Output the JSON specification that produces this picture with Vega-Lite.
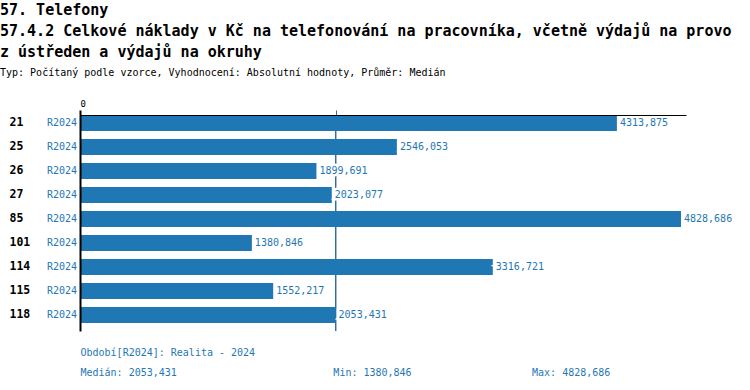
{
  "$schema": "https://vega.github.io/schema/vega-lite/v6.json",
  "width": 606,
  "height": 216,
  "padding": {"left": 0, "top": 3, "right": 5, "bottom": 5},
  "background": "white",
  "title": {
    "text": ["57. Telefony", "57.4.2 Celkové náklady v Kč na telefonování na pracovníka, včetně výdajů na provo", "z ústředen a výdajů na okruhy"],
    "subtitle": "Typ: Počítaný podle vzorce, Vyhodnocení: Absolutní hodnoty, Průměr: Medián",
    "anchor": "start",
    "frame": "bounds",
    "dx": -9,
    "font": "DejaVu Sans Mono",
    "fontSize": 15,
    "fontWeight": "bold",
    "color": "black",
    "lineHeight": 21,
    "subtitleFont": "DejaVu Sans Mono",
    "subtitleFontSize": 10,
    "subtitleColor": "black",
    "subtitlePadding": 8,
    "offset": 21
  },
  "data": {
    "values": [
      {"code": "21", "period": "R2024", "value": 4313.875, "label": "4313,875"},
      {"code": "25", "period": "R2024", "value": 2546.053, "label": "2546,053"},
      {"code": "26", "period": "R2024", "value": 1899.691, "label": "1899,691"},
      {"code": "27", "period": "R2024", "value": 2023.077, "label": "2023,077"},
      {"code": "85", "period": "R2024", "value": 4828.686, "label": "4828,686"},
      {"code": "101", "period": "R2024", "value": 1380.846, "label": "1380,846"},
      {"code": "114", "period": "R2024", "value": 3316.721, "label": "3316,721"},
      {"code": "115", "period": "R2024", "value": 1552.217, "label": "1552,217"},
      {"code": "118", "period": "R2024", "value": 2053.431, "label": "2053,431"}
    ]
  },
  "layer": [
    {
      "mark": {"type": "rule", "color": "#2f6ea3", "strokeWidth": 1},
      "encoding": {
        "x": {"datum": 2053.431, "type": "quantitative", "scale": {"domain": [0, 4869]}, "axis": null}
      }
    },
    {
      "mark": {"type": "bar", "color": "#1f77b4"},
      "encoding": {
        "y": {
          "field": "code",
          "type": "nominal",
          "sort": null,
          "scale": {"paddingInner": 0.3333, "paddingOuter": 0.1667, "align": 0},
          "axis": {
            "title": null,
            "orient": "left",
            "zindex": 1,
            "ticks": false,
            "tickSize": 0,
            "labelAlign": "left",
            "labelPadding": 71,
            "labelFont": "DejaVu Sans Mono",
            "labelFontSize": 11.5,
            "labelFontWeight": "bold",
            "labelColor": "black",
            "domainColor": "black",
            "domainWidth": 2,
            "grid": false
          }
        },
        "x": {
          "field": "value",
          "type": "quantitative",
          "scale": {"domain": [0, 4869], "nice": false, "zero": true},
          "axis": {
            "orient": "top",
            "zindex": 1,
            "title": null,
            "grid": false,
            "values": [0, 2053.431],
            "labelExpr": "datum.value === 0 ? '0' : ''",
            "labelFont": "DejaVu Sans Mono",
            "labelFontSize": 9,
            "labelColor": "black",
            "labelPadding": 2,
            "tickSize": 5,
            "tickColor": {"condition": {"test": "datum.value > 0", "value": "#2f6ea3"}, "value": "black"},
            "tickWidth": {"condition": {"test": "datum.value > 0", "value": 1}, "value": 2},
            "domainColor": "black",
            "domainWidth": 1
          }
        }
      }
    },
    {
      "mark": {"type": "text", "align": "left", "baseline": "middle", "dx": 3, "font": "DejaVu Sans Mono", "fontSize": 10, "color": "white", "stroke": "white", "strokeWidth": 5},
      "encoding": {
        "y": {"field": "code", "type": "nominal", "sort": null},
        "x": {"field": "value", "type": "quantitative", "axis": null},
        "text": {"field": "label"}
      }
    },
    {
      "mark": {"type": "text", "align": "left", "baseline": "middle", "dx": 3, "font": "DejaVu Sans Mono", "fontSize": 10, "color": "#1f77b4"},
      "encoding": {
        "y": {"field": "code", "type": "nominal", "sort": null},
        "x": {
          "field": "value",
          "type": "quantitative",
          "axis": {
            "orient": "bottom",
            "domain": false,
            "ticks": false,
            "labels": false,
            "grid": false,
            "title": ["Období[R2024]: Realita - 2024", "Medián: 2053,431\u00a0\u00a0\u00a0\u00a0\u00a0\u00a0\u00a0\u00a0\u00a0\u00a0\u00a0\u00a0\u00a0\u00a0\u00a0\u00a0\u00a0\u00a0\u00a0\u00a0\u00a0\u00a0\u00a0\u00a0\u00a0\u00a0Min: 1380,846\u00a0\u00a0\u00a0\u00a0\u00a0\u00a0\u00a0\u00a0\u00a0\u00a0\u00a0\u00a0\u00a0\u00a0\u00a0\u00a0\u00a0\u00a0\u00a0\u00a0Max: 4828,686"],
            "titleAnchor": "start",
            "titleAlign": "left",
            "titleBaseline": "top",
            "titleFont": "DejaVu Sans Mono",
            "titleFontSize": 10,
            "titleFontWeight": "normal",
            "titleColor": "#1f77b4",
            "titleLineHeight": 20,
            "titlePadding": 16
          }
        },
        "text": {"field": "label"}
      }
    },
    {
      "mark": {"type": "text", "align": "right", "baseline": "middle", "dx": -3, "font": "DejaVu Sans Mono", "fontSize": 10, "color": "#1f77b4"},
      "encoding": {
        "y": {"field": "code", "type": "nominal", "sort": null},
        "x": {"datum": 0, "type": "quantitative", "axis": null},
        "text": {"field": "period"}
      }
    }
  ],
  "resolve": {"axis": {"x": "independent"}},
  "config": {"view": {"stroke": null}}
}
